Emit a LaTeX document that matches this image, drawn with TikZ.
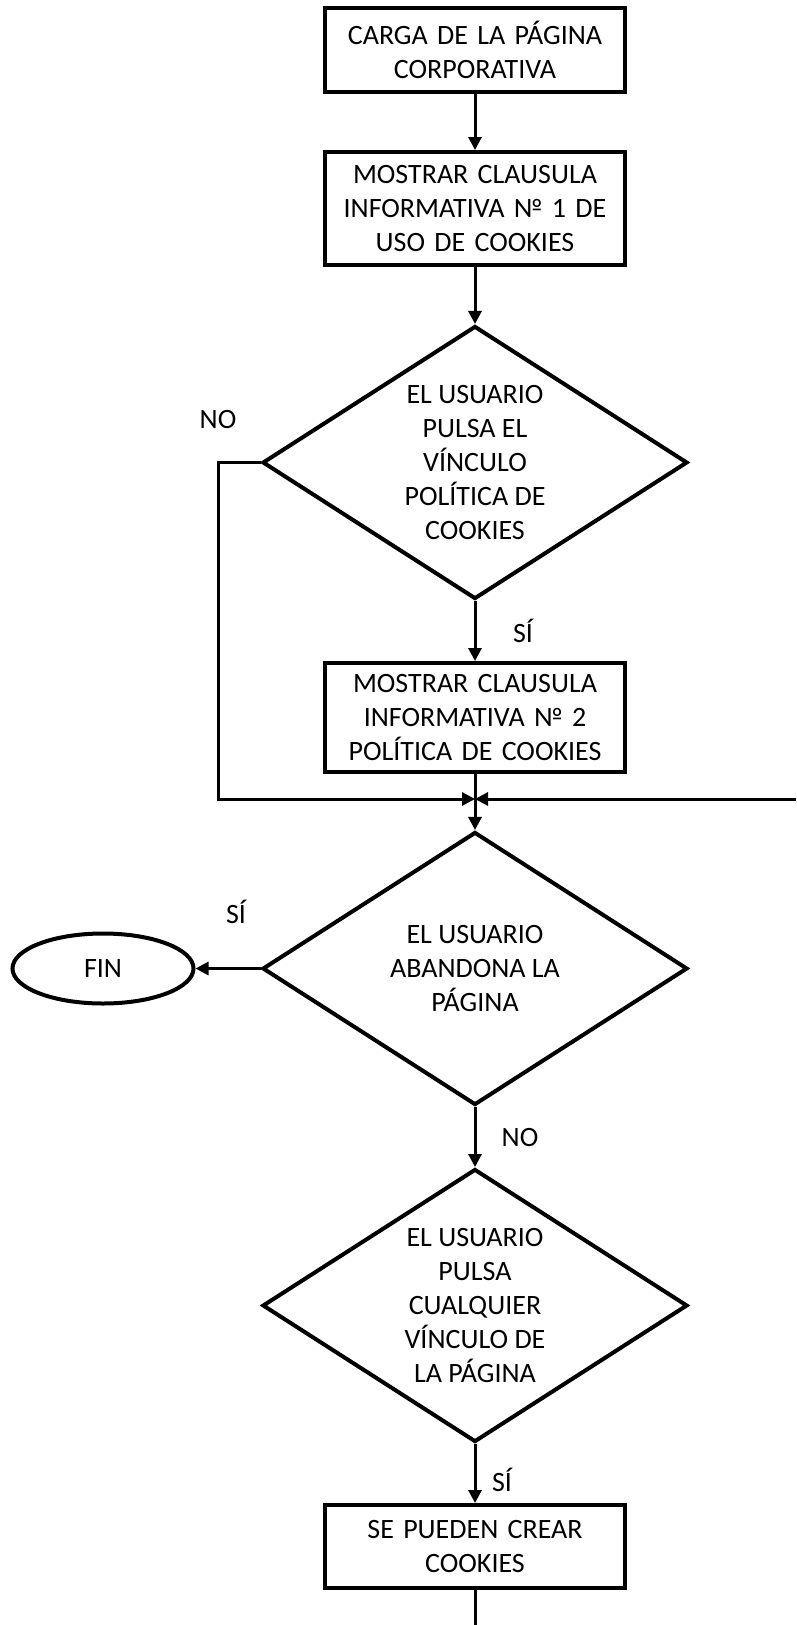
\documentclass[tikz,border=0pt]{standalone}
\usepackage{fontspec}
\setmainfont{Carlito}
\usetikzlibrary{shapes,arrows.meta,positioning}

\begin{document}
\begin{tikzpicture}[x=1pt, y=-1pt, node distance=56pt, thick]
        % Define block styles
        \tikzstyle{squarednode} = [rectangle, draw=black, line width=4pt, text width=296pt, align=center, minimum width=300pt, inner sep=0pt, font=\fontsize{28}{34}\selectfont]
        \tikzstyle{decisionnode} = [diamond, draw=black, line width=4pt, aspect=1.557, minimum width=425pt, minimum height=273pt, inner sep=0pt, align=center, font=\fontsize{28}{34}\selectfont]
        \tikzstyle{roundnode} = [ellipse, draw=black, line width=4pt, minimum width=181pt, minimum height=70pt, font=\fontsize{28}{34}\selectfont]
        \tikzstyle{answer} = [font=\fontsize{28}{34}\selectfont, inner sep=0pt]
        \tikzstyle{line} = [draw, line width=3pt, -{Triangle[length=13pt,width=13pt]}]

        \useasboundingbox (0,0) rectangle (796,1625);

        % Define nodes
        \node [squarednode, minimum height=84pt] (load) at (475,50) {CARGA DE LA PÁGINA\\CORPORATIVA};
        \node [squarednode, minimum height=113pt, below=of load] (info1) {MOSTRAR CLAUSULA\\INFORMATIVA № 1 DE\\USO DE COOKIES};
        \node [decisionnode, below=57pt of info1] (policy) {EL USUARIO\\PULSA EL\\VÍNCULO\\POLÍTICA DE\\COOKIES};
        \node [squarednode, minimum height=109pt, below=60pt of policy] (info2) {MOSTRAR CLAUSULA\\INFORMATIVA № 2\\POLÍTICA DE COOKIES};
        \coordinate [below=25pt of info2] (join);
        \coordinate [right=321pt of join] (rightin);
        \node [decisionnode, below=56pt of info2] (leave) {EL USUARIO\\ABANDONA LA\\PÁGINA};
        \node [roundnode, left=65pt of leave] (fin) {FIN};
        \node [decisionnode, below=60pt of leave] (click) {EL USUARIO\\PULSA\\CUALQUIER\\VÍNCULO DE\\LA PÁGINA};
        \node [squarednode, minimum height=83pt, below=59pt of click] (cookies) {SE PUEDEN CREAR\\COOKIES};
        \coordinate (bottom) at (475,1625);

        % Connect nodes with paths
        \draw[line] (load) -- (info1);
        \draw[line] (info1) -- (policy);
        \draw[line] (policy) -- node[answer, midway, xshift=48pt] {SÍ} (info2);
        \draw[line] (policy.west) -| node[answer, pos=0.5, yshift=43pt] {NO} ([xshift=-257pt]join) -- (join);
        \draw[line] (rightin) -- (join);
        \draw[line] (info2) -- (leave);
        \draw[line] (leave.west) -- node[answer, midway, yshift=57pt, xshift=8pt] {SÍ} (fin.east);
        \draw[line] (leave) -- node[answer, midway, xshift=45pt] {NO} (click);
        \draw[line] (click) -- node[answer, midway, xshift=27pt, yshift=-6pt] {SÍ} (cookies);
        \draw[line width=3pt] (cookies) -- (bottom);

    \end{tikzpicture}
\end{document}
